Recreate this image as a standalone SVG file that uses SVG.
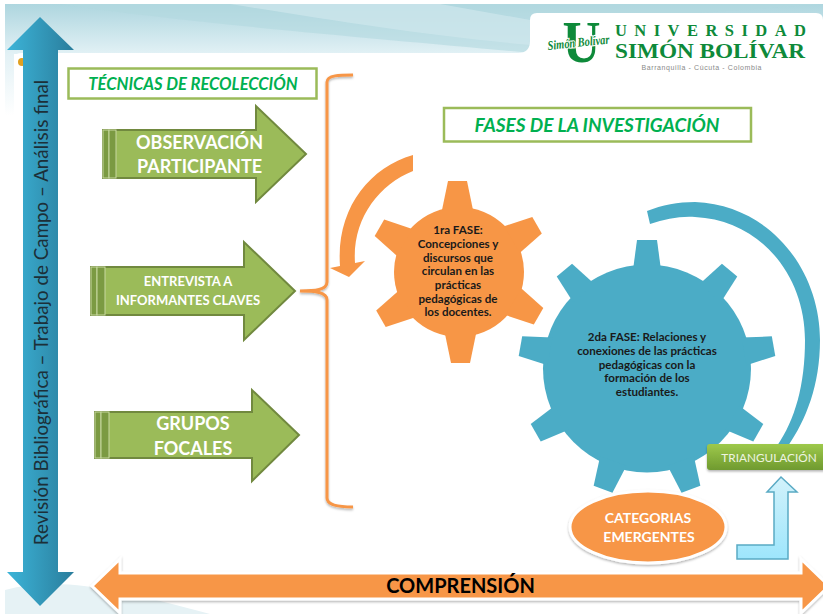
<svg xmlns="http://www.w3.org/2000/svg" width="823" height="614" viewBox="0 0 823 614">
<style>
.g{fill:#9bbb59;stroke:#71893f;stroke-width:2}
.s{fill:#7b9a42;stroke:#c8d8a0;stroke-width:1}
.lat{font-family:Lato,"Open Sans",sans-serif;text-anchor:middle}
.w{fill:#fff;font-weight:700}
.h{fill:#00b050;font-weight:700;font-style:italic;font-size:16.600px}
.b{fill:#1a1a1a;font-weight:700;font-size:11.600px}
.box{fill:#fff;stroke:#9bbb59;stroke-width:2.500}
.or{fill:#f79646}
.bl{fill:#4bacc6}
.lg{font-family:"Liberation Serif",serif;fill:#0e8a3a}
</style>
<defs>
<linearGradient id="sky" x1="0" y1="0" x2="0" y2="1"><stop offset="0" stop-color="#aed6df"/><stop offset="1" stop-color="#e2f1f5"/></linearGradient>
<linearGradient id="side" x1="0" y1="0" x2="0" y2="1"><stop offset="0" stop-color="#e2f1f5"/><stop offset="1" stop-color="#ffffff"/></linearGradient>
<linearGradient id="ba" x1="0" y1="0" x2="1" y2="0"><stop offset="0" stop-color="#3cb4d8"/><stop offset="1" stop-color="#2a7d9c"/></linearGradient>
<linearGradient id="tri" x1="0" y1="0" x2="0" y2="1"><stop offset="0" stop-color="#9ec94c"/><stop offset="1" stop-color="#6f9a2f"/></linearGradient>
<linearGradient id="lb" x1="0" y1="0" x2="0" y2="1"><stop offset="0" stop-color="#d2f2fb"/><stop offset="1" stop-color="#9ee6fc"/></linearGradient>
<filter id="sh" x="-10%" y="-10%" width="120%" height="125%"><feDropShadow dx="0" dy="1.500" stdDeviation="1.200" flood-color="#000" flood-opacity=".3"/></filter>
<polygon id="t1" points="442,210 448,181 467,181 473,210"/>
<polygon id="t2" points="633,270 637,240 657,240 661,270"/>
</defs>
<g id="background">
<rect x="5" y="4" width="818" height="50" fill="url(#sky)"/>
<rect x="5" y="54" width="9" height="62" fill="url(#side)"/>
<path d="M60,4 C200,25 400,40 530,53 L530,40 C530,25 600,20 823,4 Z" fill="#b3d8e0" opacity=".6"/>
<path d="M230,4 C330,20 420,35 530,45 L530,20 L440,4 Z" fill="#cfe7ec" opacity=".7"/>
<path d="M5,590 C60,575 120,590 210,614 L5,614 Z" fill="#e6f2f5"/>
<path d="M14,114 L14,60 Q14,53 21,53 L518,53 Q530,53 530,41 L530,20 Q530,13 537,13 L816,13 Q823,13 823,20 L823,114 Z" fill="#fff"/>
<circle cx="22" cy="62" r="4" fill="#e0a020"/>
</g>
<g id="logo">
<text class="lg" x="581.500" y="62" font-weight="700" font-size="59" text-anchor="middle" textLength="38" lengthAdjust="spacingAndGlyphs">U</text>
<text class="lg" transform="translate(548,50) rotate(-6)" font-style="italic" font-weight="700" font-size="13" stroke="#fff" stroke-width="2" paint-order="stroke" textLength="62" lengthAdjust="spacingAndGlyphs">Simón Bolívar</text>
<text class="lg" x="615" y="36" font-weight="700" font-size="16.500" textLength="191">UNIVERSIDAD</text>
<text class="lg" x="615" y="57.500" font-weight="700" font-size="21" textLength="190" lengthAdjust="spacingAndGlyphs">SIMÓN BOLÍVAR</text>
<text x="701.500" y="70" font-family="'Liberation Sans',sans-serif" font-size="7" fill="#8a8a8a" text-anchor="middle" textLength="120">Barranquilla - Cúcuta - Colombia</text>
</g>
<g id="tecnicas"><rect class="box" x="68.500" y="68.500" width="248" height="30"/><text class="lat h" x="193" y="90">TÉCNICAS DE RECOLECCIÓN</text></g>
<g id="fases"><rect class="box" x="444" y="108" width="307" height="33.500"/><text class="lat h" x="597" y="132" style="font-size:19px">FASES DE LA INVESTIGACIÓN</text></g>
<g id="observacion">
<polygon class="g" points="103,130 256,130 256,106 306,154 256,202 256,178 103,178"/>
<rect class="s" x="103" y="130" width="6" height="48"/><rect class="s" x="109" y="130" width="7" height="48"/>
<text class="lat w" x="199.500" y="149" font-size="18">OBSERVACIÓN</text><text class="lat w" x="199.500" y="173" font-size="18">PARTICIPANTE</text>
</g>
<g id="entrevista">
<polygon class="g" points="91,267 244,267 244,242 295,291 244,340 244,315 91,315"/>
<rect class="s" x="91" y="267" width="6" height="48"/><rect class="s" x="97" y="267" width="8" height="48"/>
<text class="lat w" x="188" y="286" font-size="13">ENTREVISTA A</text><text class="lat w" x="188" y="305" font-size="13">INFORMANTES CLAVES</text>
</g>
<g id="grupos">
<polygon class="g" points="95,412 252,412 252,390 299,435 252,481 252,458 95,458"/>
<rect class="s" x="95" y="412" width="6" height="46"/><rect class="s" x="101" y="412" width="8" height="46"/>
<text class="lat w" x="193" y="430" font-size="18">GRUPOS</text><text class="lat w" x="193" y="455" font-size="18">FOCALES</text>
</g>
<g id="connectors" fill="none">
<path d="M353,75 C340,75 327,75 327,82 L327,282 C327,290 315,291 300,291 C315,291 327,292 327,300 L327,498 C327,505 340,507 353,507" stroke="#f79646" stroke-width="3" filter="url(#sh)"/>
<path class="or" d="M413,155 C368,168 336,210 340,266 L330,268 L349,277 L365,261 L355,263 C352,220 378,185 413,171 Z"/>
<path class="bl" d="M647,211 C662,205 678,202 695,202 C770,205 820,270 820,340 C820,385 806,420 788,446 L777,446 C795,420 805,385 805,340 C805,275 760,220 695,217 C680,216 665,219 650,224 Z"/>
<path d="M737,545 H774 V492 H767 L781,477 L797,492 H788 V559 H737 Z" fill="url(#lb)" stroke="#5aaac4" stroke-width="1.500"/>
</g>
<g id="fase1">
<g class="or"><circle cx="459" cy="272" r="65"/><use href="#t1"/><use href="#t1" transform="rotate(60 459 272)"/><use href="#t1" transform="rotate(120 459 272)"/><use href="#t1" transform="rotate(180 459 272)"/><use href="#t1" transform="rotate(240 459 272)"/><use href="#t1" transform="rotate(300 459 272)"/></g>
<text class="lat b"><tspan x="458" y="234">1ra FASE:</tspan><tspan x="458" y="248">Concepciones y</tspan><tspan x="458" y="262">discursos que</tspan><tspan x="458" y="275">circulan en las</tspan><tspan x="458" y="289">prácticas</tspan><tspan x="458" y="303">pedagógicas de</tspan><tspan x="458" y="316">los docentes.</tspan></text>
</g>
<g id="fase2">
<g class="bl"><circle cx="647" cy="368.500" r="104"/><use href="#t2"/><use href="#t2" transform="rotate(40 647 368.500)"/><use href="#t2" transform="rotate(80 647 368.500)"/><use href="#t2" transform="rotate(120 647 368.500)"/><use href="#t2" transform="rotate(160 647 368.500)"/><use href="#t2" transform="rotate(200 647 368.500)"/><use href="#t2" transform="rotate(240 647 368.500)"/><use href="#t2" transform="rotate(280 647 368.500)"/><use href="#t2" transform="rotate(320 647 368.500)"/></g>
<text class="lat b"><tspan x="647" y="341">2da FASE: Relaciones y</tspan><tspan x="647" y="355">conexiones de las prácticas</tspan><tspan x="647" y="369">pedagógicas con la</tspan><tspan x="647" y="382">formación de los</tspan><tspan x="647" y="396">estudiantes.</tspan></text>
</g>
<g id="triangulacion"><rect x="707" y="444" width="120" height="26" rx="3" fill="url(#tri)" filter="url(#sh)"/><text class="lat" x="769" y="461.500" font-size="11.800" fill="#eef4e0">TRIANGULACIÓN</text></g>
<g id="categorias"><ellipse cx="648" cy="527" rx="78" ry="36" class="or" stroke="#fff" stroke-width="3" filter="url(#sh)"/><text class="lat w" x="648" y="523" font-size="14">CATEGORIAS</text><text class="lat w" x="649" y="542" font-size="14">EMERGENTES</text></g>
<g id="revision"><polygon fill="url(#ba)" points="40,17 74,50 58,50 58,572 74,572 40,606 7,572 23,572 23,50 7,50"/><text class="lat" transform="translate(48,312.500) rotate(-90)" font-size="18.800" fill="#1c2f38">Revisión Bibliográfica – Trabajo de Campo – Análisis final</text></g>
<g id="comprension"><polygon class="or" points="92,586 120,559 120,573 801,573 801,559 829,586 801,613 801,599 120,599 120,613" stroke="#fff" stroke-width="3" filter="url(#sh)"/><text class="lat" x="460.500" y="593" font-size="20" font-weight="700" fill="#000">COMPRENSIÓN</text></g>
</svg>
